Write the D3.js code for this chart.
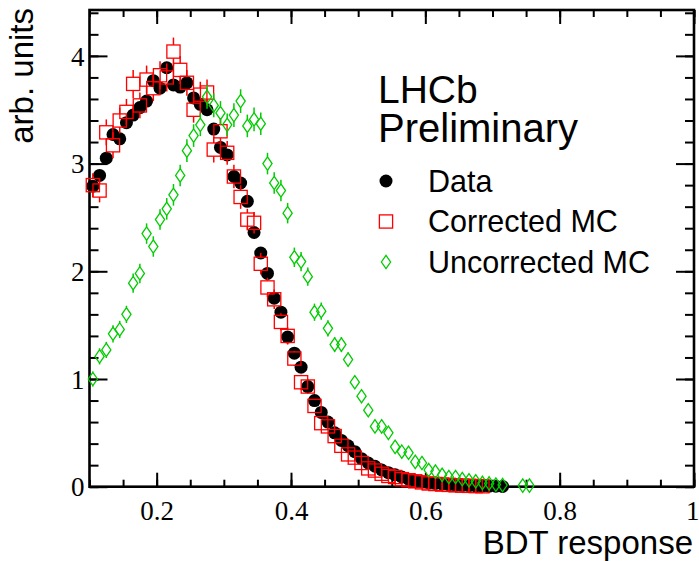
<!DOCTYPE html>
<html>
<head>
<meta charset="utf-8">
<script src="https://cdn.jsdelivr.net/npm/d3@7"></script>
<style>
  html, body { margin: 0; padding: 0; background: #fff; }
  svg { display: block; }
</style>
</head>
<body>
<div id="chart"></div>
<script>
// histogram binning (BDT response), 0.01 wide bins starting at 0.1
const binLow = 0.1, binWidth = 0.01;

// Data (black dots)
const dataVals = [2.79, 2.89, 3.05, 3.27, 3.23, 3.38, 3.45, 3.52, 3.58, 3.77,
  3.70, 3.89, 3.73, 3.71, 3.75, 3.61, 3.55, 3.50, 3.32, 3.15,
  3.08, 2.88, 2.82, 2.65, 2.36, 2.17, 1.98, 1.75, 1.62, 1.39,
  1.24, 1.11, 0.93, 0.80, 0.69, 0.60, 0.50, 0.43, 0.38, 0.325,
  0.26, 0.22, 0.19, 0.155, 0.13, 0.11, 0.09, 0.07, 0.055, 0.045,
  0.035, 0.03, 0.025, 0.02, 0.015, 0.012, 0.01, 0.008, 0.006, 0.005,
  0.004, 0.003];

// Corrected MC (red open squares)
const corrVals = [2.80, 2.75, 3.29, 3.17, 3.40, 3.48, 3.74, 3.54, 3.78, 3.70,
  3.82, 3.80, 4.04, 3.87, 3.75, 3.50, 3.64, 3.66, 3.13, 3.30,
  3.10, 2.88, 2.69, 2.48, 2.45, 2.07, 1.85, 1.74, 1.53, 1.40,
  1.19, 0.97, 0.93, 0.75, 0.59, 0.56, 0.47, 0.38, 0.30, 0.27,
  0.22, 0.17, 0.15, 0.12, 0.10, 0.09, 0.07, 0.06, 0.05, 0.04,
  0.03, 0.025, 0.02, 0.017, 0.013, 0.01, 0.008, 0.006, 0.004];
const corrErr = [0.11, 0.11, 0.12, 0.12, 0.12, 0.12, 0.13, 0.12, 0.13, 0.12,
  0.13, 0.13, 0.13, 0.13, 0.12, 0.12, 0.12, 0.12, 0.12, 0.12,
  0.11, 0.11, 0.11, 0.10, 0.10, 0.10, 0.09, 0.09, 0.08, 0.08,
  0.07, 0.07, 0.07, 0.06, 0.06, 0.05, 0.05, 0.05, 0.04, 0.04,
  0.04, 0.03, 0.03, 0.03, 0.03, 0.02, 0.02, 0.02, 0.02, 0.02,
  0.015, 0.015, 0.01, 0.01, 0.01, 0.01, 0.01, 0.01, 0.01];

// Uncorrected MC (green open diamonds), null = empty bin
const uncorrVals = [1.00, 1.21, 1.27, 1.42, 1.46, 1.60, 1.89, 1.98, 2.35, 2.23,
  2.48, 2.58, 2.71, 2.89, 3.12, 3.26, 3.36, 3.62, 3.54, 3.47,
  3.36, 3.45, 3.58, 3.35, 3.41, 3.37, 3.00, 2.82, 2.75, 2.54,
  2.13, 2.09, 1.95, 1.62, 1.63, 1.47, 1.32, 1.32, 1.18, 0.97,
  0.84, 0.71, 0.56, 0.56, 0.50, 0.37, 0.325, 0.315, 0.23, 0.22,
  0.155, 0.14, 0.11, 0.09, 0.09, 0.07, 0.06, 0.05, 0.035, 0.03,
  0.02, 0.015, null, null, 0.01, 0.01];
const uncorrErr = [0.07, 0.075, 0.075, 0.08, 0.08, 0.08, 0.09, 0.09, 0.095, 0.095,
  0.095, 0.1, 0.1, 0.1, 0.105, 0.105, 0.105, 0.11, 0.11, 0.11,
  0.105, 0.11, 0.11, 0.105, 0.11, 0.105, 0.1, 0.1, 0.1, 0.095,
  0.09, 0.09, 0.085, 0.08, 0.08, 0.075, 0.07, 0.07, 0.065, 0.06,
  0.055, 0.05, 0.045, 0.045, 0.045, 0.04, 0.035, 0.035, 0.03, 0.03,
  0.025, 0.025, 0.02, 0.02, 0.02, 0.018, 0.016, 0.014, 0.012, 0.01,
  0.01, 0.008, null, null, 0.006, 0.006];

// axes
const xMajor = [0.2, 0.4, 0.6, 0.8, 1.0];
const xTickLabels = ["0.2", "0.4", "0.6", "0.8", "1"];
const yMajor = [0, 1, 2, 3, 4];
const yTickLabels = ["0", "1", "2", "3", "4"];
const legendLabels = ["Data", "Corrected MC", "Uncorrected MC"];

const width = 699, height = 561;
const frame = {left: 89.5, right: 694, top: 10, bottom: 486.7};

let svg = d3.select('#chart').append('svg')
  .attr('width', width)
  .attr('height', height);

let x = d3.scaleLinear().domain([0.1, 1.0]).range([frame.left, frame.right]);
let y = d3.scaleLinear().domain([0, 4.426]).range([frame.bottom, frame.top]);

const xMinor = d3.range(0, 19).map(i => +(0.1 + i * 0.05).toFixed(2));
const yMinor = d3.range(0, 23).map(i => +(i * 0.2).toFixed(1));

function bins(vals, errs) {
  return vals.map((v, i) => ({x: binLow + binWidth * (i + 0.5), v: v, e: errs ? errs[i] : 0}))
    .filter(d => d.v != null);
}

// tick marks (ROOT style: inward, on all four sides)
function tickAxis(axis, transform, values, size, labels) {
  let g = svg.append('g')
    .attr('transform', transform)
    .call(axis.tickValues(values).tickSize(size)
      .tickFormat(labels ? (d, i) => labels[i] : () => ''));
  g.select('.domain').remove();
  g.selectAll('line').attr('stroke', '#000').attr('stroke-width', 2);
  return g;
}
const bx = tickAxis(d3.axisBottom(x).tickPadding(0), `translate(0,${frame.bottom})`, xMajor, -14, xTickLabels);
bx.selectAll('text').attr('y', 33).attr('dy', null)
  .style('font-family', '"Liberation Serif", "Times New Roman", serif').style('font-size', '27px').attr('fill', '#000');
// last label sits against the window edge
bx.selectAll('text').filter(d => d === 1).attr('text-anchor', 'end').attr('x', 5);
tickAxis(d3.axisBottom(x), `translate(0,${frame.bottom})`, xMinor, -7);
tickAxis(d3.axisTop(x), `translate(0,${frame.top})`, xMajor, -14);
tickAxis(d3.axisTop(x), `translate(0,${frame.top})`, xMinor, -7);

const ly = tickAxis(d3.axisLeft(y).tickPadding(5), `translate(${frame.left},0)`, yMajor, -18, yTickLabels);
ly.selectAll('text').attr('dy', '0.34em')
  .style('font-family', '"Liberation Serif", "Times New Roman", serif').style('font-size', '27px').attr('fill', '#000');
tickAxis(d3.axisLeft(y), `translate(${frame.left},0)`, yMinor, -9);
tickAxis(d3.axisRight(y), `translate(${frame.right},0)`, yMajor, -18);
tickAxis(d3.axisRight(y), `translate(${frame.right},0)`, yMinor, -9);

svg.append('rect')
  .attr('x', frame.left).attr('y', frame.top)
  .attr('width', frame.right - frame.left).attr('height', frame.bottom - frame.top)
  .attr('fill', 'none').attr('stroke', '#000').attr('stroke-width', 2.6);

// axis titles
const sans = '"Liberation Sans", Arial, Helvetica, sans-serif';
svg.append('text')
  .attr('x', 693).attr('y', 554)
  .attr('text-anchor', 'end')
  .style('font-family', sans).style('font-size', '33px')
  .text('BDT response');
svg.append('text')
  .attr('transform', 'translate(33,8) rotate(-90)')
  .attr('text-anchor', 'end')
  .style('font-family', sans).style('font-size', '33px')
  .text('arb. units');

// error bars drawn outside the hollow marker
function errorBars(g, pts, half, color) {
  pts.filter(d => d.e).forEach(function (d) {
    let yc = y(d.v), yt = y(d.v + d.e), yb = Math.min(y(d.v - d.e), frame.bottom);
    if (yc - half > yt) g.append('line').attr('x1', x(d.x)).attr('x2', x(d.x))
      .attr('y1', yt).attr('y2', yc - half).attr('stroke', color).attr('stroke-width', 1.5);
    if (yc + half < yb) g.append('line').attr('x1', x(d.x)).attr('x2', x(d.x))
      .attr('y1', yc + half).attr('y2', yb).attr('stroke', color).attr('stroke-width', 1.5);
  });
}

const dataPts = bins(dataVals), corrPts = bins(corrVals, corrErr), uncorrPts = bins(uncorrVals, uncorrErr);
const red = '#ff0000', green = '#00cc00';
const sq = 6.6, dw = 4.6, dh = 6.7;
const diamond = (cx, cy) => `M${cx},${cy - dh}L${cx + dw},${cy}L${cx},${cy + dh}L${cx - dw},${cy}Z`;

// data
svg.append('g').selectAll('circle').data(dataPts).enter()
  .append('circle')
  .attr('cx', d => x(d.x)).attr('cy', d => y(d.v)).attr('r', 6.5)
  .attr('fill', '#000');

// corrected MC
let gc = svg.append('g');
errorBars(gc, corrPts, sq, red);
gc.selectAll('rect').data(corrPts).enter()
  .append('rect')
  .attr('x', d => x(d.x) - sq).attr('y', d => y(d.v) - sq)
  .attr('width', 2 * sq).attr('height', 2 * sq)
  .attr('fill', 'none').attr('stroke', red).attr('stroke-width', 1.3);

// uncorrected MC
let gu = svg.append('g');
errorBars(gu, uncorrPts, dh, green);
gu.selectAll('path').data(uncorrPts).enter()
  .append('path')
  .attr('d', d => diamond(x(d.x), y(d.v)))
  .attr('fill', 'none').attr('stroke', green).attr('stroke-width', 1.3);

// label + legend
svg.append('text').attr('x', 378).attr('y', 103)
  .style('font-family', sans).style('font-size', '39px').text('LHCb');
svg.append('text').attr('x', 378).attr('y', 142)
  .style('font-family', sans).style('font-size', '40px').text('Preliminary');

const legY = [181, 221.5, 262];
svg.append('circle').attr('cx', 386).attr('cy', legY[0]).attr('r', 6.5).attr('fill', '#000');
svg.append('rect').attr('x', 386 - sq).attr('y', legY[1] - sq).attr('width', 2 * sq).attr('height', 2 * sq)
  .attr('fill', 'none').attr('stroke', red).attr('stroke-width', 1.3);
svg.append('path').attr('d', diamond(386, legY[2]))
  .attr('fill', 'none').attr('stroke', green).attr('stroke-width', 1.3);
svg.selectAll('text.leg').data(legendLabels).enter()
  .append('text').attr('class', 'leg')
  .attr('x', 428).attr('y', (d, i) => legY[i] + 10.5)
  .style('font-family', sans).style('font-size', '30.5px')
  .text(d => d);
</script>
</body>
</html>
